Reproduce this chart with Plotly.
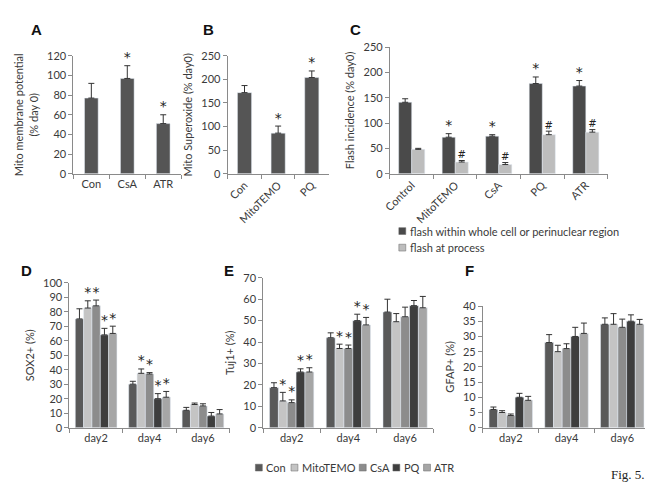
import plotly.graph_objects as go

# ---------------- data ----------------
a_cats = ["Con", "CsA", "ATR"]
a_vals = [77, 97, 51]
a_errs = [15, 13, 9]
a_stars = ["", "*", "*"]

b_cats = ["Con", "MitoTEMO", "PQ"]
b_vals = [172, 86, 204]
b_errs = [15, 15, 14]
b_stars = ["", "*", "*"]

c_cats = ["Control", "MitoTEMO", "CsA", "PQ", "ATR"]
c_whole = [141, 72, 74, 178, 173]
c_whole_err = [7, 7, 3, 13, 11]
c_whole_marks = ["", "*", "*", "*", "*"]
c_proc = [48, 23, 18, 77, 82]
c_proc_err = [2, 3, 4, 7, 5]
c_proc_marks = ["", "#", "#", "#", "#"]
c_series = ["flash within whole cell or perinuclear region", "flash at process"]

days = ["day2", "day4", "day6"]
treatments = ["Con", "MitoTEMO", "CsA", "PQ", "ATR"]

d_vals = {"Con": [75, 30, 12], "MitoTEMO": [82.5, 37.5, 16], "CsA": [84, 37, 15],
          "PQ": [64, 20, 8], "ATR": [65, 21, 9.5]}
d_errs = {"Con": [7, 2, 2], "MitoTEMO": [5, 3, 1], "CsA": [4, 1, 1.5],
          "PQ": [4.5, 3.5, 2.5], "ATR": [5, 4, 3]}
d_stars = {"Con": ["", "", ""], "MitoTEMO": ["*", "*", ""], "CsA": ["*", "*", ""],
           "PQ": ["*", "*", ""], "ATR": ["*", "*", ""]}

e_vals = {"Con": [18.7, 42, 54], "MitoTEMO": [12.5, 37, 49.5], "CsA": [11.7, 37, 51.8],
          "PQ": [26, 50, 57], "ATR": [26, 48, 56]}
e_errs = {"Con": [2.3, 2.3, 6], "MitoTEMO": [4, 2, 3.8], "CsA": [1.3, 1.6, 4.5],
          "PQ": [1.5, 3, 2.4], "ATR": [2, 3.5, 5.3]}
e_stars = {"Con": ["", "", ""], "MitoTEMO": ["*", "*", ""], "CsA": ["*", "*", ""],
           "PQ": ["*", "*", ""], "ATR": ["*", "*", ""]}

f_vals = {"Con": [6, 28, 34], "MitoTEMO": [5, 25, 34], "CsA": [4, 26, 33],
          "PQ": [10, 30, 35], "ATR": [9, 31, 34]}
f_errs = {"Con": [0.8, 2.6, 2.1], "MitoTEMO": [0.6, 2.1, 3.5], "CsA": [0.5, 1.6, 2.7],
          "PQ": [1.3, 3, 2.1], "ATR": [1.3, 3.4, 1.6]}

fig_label = "Fig. 5."

# ---------------- styling ----------------
W, H = 653, 488
FONT = "Lato, Open Sans, sans-serif"
STARF = "DejaVu Sans, sans-serif"
AX = "#8a8a8a"
TXT = "#3a3a3a"
colors = {"Con": "#595959", "MitoTEMO": "#c4c4c4", "CsA": "#8c8c8c",
          "PQ": "#3e3e3e", "ATR": "#a6a6a6"}
c_colors = ["#4a4a4a", "#bdbdbd"]


def px_x(a, b):
    return [a / W, b / W]


def px_y(top, bottom):
    return [1 - bottom / H, 1 - top / H]


def err(arr):
    return dict(type="data", array=arr, arrayminus=[0] * len(arr), symmetric=False,
                color="#333333", thickness=1, width=3)


def marks(xs, vals, errs, text, xa, ya, size=14):
    return go.Scatter(x=xs, y=[v + e for v, e in zip(vals, errs)], text=text,
                      mode="text", textposition="top center",
                      textfont=dict(size=size, color="#222222", family=STARF),
                      xaxis=xa, yaxis=ya, showlegend=False, cliponaxis=False,
                      hoverinfo="skip")


fig = go.Figure()

# ---- Panel A ----
fig.add_trace(go.Bar(x=a_cats, y=a_vals, error_y=err(a_errs), marker_color="#555555",
                     width=0.38, xaxis="x", yaxis="y", showlegend=False))
fig.add_trace(marks(a_cats, a_vals, a_errs, a_stars, "x", "y"))

# ---- Panel B ----
fig.add_trace(go.Bar(x=b_cats, y=b_vals, error_y=err(b_errs), marker_color="#555555",
                     width=0.42, xaxis="x2", yaxis="y2", showlegend=False))
fig.add_trace(marks(b_cats, b_vals, b_errs, b_stars, "x2", "y2"))

# ---- Panel C ----
cw = 0.30
for k, (vals, errs, mk, name) in enumerate([
        (c_whole, c_whole_err, c_whole_marks, c_series[0]),
        (c_proc, c_proc_err, c_proc_marks, c_series[1])]):
    xs = [i + (k - 0.5) * cw for i in range(len(c_cats))]
    fig.add_trace(go.Bar(x=xs, y=vals, error_y=err(errs), marker_color=c_colors[k],
                         width=cw, name=name, xaxis="x3", yaxis="y3", showlegend=False))
    fig.add_trace(marks(xs, vals, errs, mk, "x3", "y3", 14 if k == 0 else 10))

# ---- Panels D, E, F ----
bw = 0.156
panels = [(d_vals, d_errs, d_stars, "x4", "y4"),
          (e_vals, e_errs, e_stars, "x5", "y5"),
          (f_vals, f_errs, None, "x6", "y6")]
for p, (vals, errs, stars, xa, ya) in enumerate(panels):
    for j, t in enumerate(treatments):
        xs = [i + (j - 2) * bw for i in range(len(days))]
        fig.add_trace(go.Bar(x=xs, y=vals[t], error_y=err(errs[t]), marker_color=colors[t],
                             width=bw, name=t, xaxis=xa, yaxis=ya, showlegend=False))
        if stars is not None:
            fig.add_trace(marks(xs, vals[t], errs[t], stars[t], xa, ya))

# ---------------- axes ----------------
tickf = dict(size=11, color=TXT, family=FONT)
titlef = dict(size=11, color=TXT, family=FONT)


def yax(domain, rng, dtick, title, anchor, standoff=6):
    return dict(domain=domain, range=rng, dtick=dtick, anchor=anchor, showline=True,
                linecolor=AX, linewidth=1, ticks="outside", tickcolor=AX, ticklen=4,
                showgrid=False, zeroline=False, tickfont=tickf,
                title=dict(text=title, font=titlef, standoff=standoff))


def xcat(domain, anchor, angle=0):
    return dict(domain=domain, anchor=anchor, showline=True, linecolor=AX, linewidth=1,
                ticks="outside", tickcolor=AX, ticklen=4, tickson="boundaries",
                showgrid=False, tickfont=tickf, tickangle=angle)


def xnum(domain, anchor, labels, angle=0):
    n = len(labels)
    return dict(domain=domain, anchor=anchor, range=[-0.5, n - 0.5], showline=True,
                linecolor=AX, linewidth=1, tickmode="array", tickvals=list(range(n)),
                ticktext=labels, ticks="", showgrid=False, zeroline=False, tickfont=tickf,
                tickangle=angle,
                minor=dict(tickmode="array", tickvals=[i - 0.5 for i in range(n + 1)],
                           ticks="outside", ticklen=4, tickcolor=AX, showgrid=False))


fig.update_layout(
    width=W, height=H, margin=dict(l=0, r=0, t=0, b=0),
    paper_bgcolor="white", plot_bgcolor="white", barmode="overlay",
    font=dict(family=FONT, color=TXT), showlegend=False,
    xaxis=xcat(px_x(59, 168), "y"),
    yaxis=yax(px_y(42, 163), [0, 120], 20, "Mito membrane potential<br>(% day 0)", "x"),
    xaxis2=xcat(px_x(215, 317), "y2", -45),
    yaxis2=yax(px_y(42, 163), [0, 250], 50, "Mito Superoxide (% day0)", "x2"),
    xaxis3=xnum(px_x(379, 599), "y3", c_cats, -45),
    yaxis3=yax(px_y(33, 163), [0, 250], 50, "Flash incidence (% day0)", "x3"),
    xaxis4=xnum(px_x(55, 217), "y4", days),
    yaxis4=yax(px_y(275, 424), [0, 100], 10, "SOX2+ (%)", "x4"),
    xaxis5=xnum(px_x(251, 423), "y5", days),
    yaxis5=yax(px_y(270, 424), [0, 70], 10, "Tuj1+ (%)", "x5"),
    xaxis6=xnum(px_x(473, 642), "y6", days),
    yaxis6=yax(px_y(299, 424), [0, 40], 5, "GFAP+ (%)", "x6"),
)


# ---------------- compact legends (square swatch + real text) ----------------
def legend_item(x, y, color, label):
    s = 7
    fig.add_shape(type="rect", xref="paper", yref="paper",
                  x0=x / W, x1=(x + s) / W, y0=1 - (y + s / 2) / H, y1=1 - (y - s / 2) / H,
                  fillcolor=color, line=dict(color="#666666", width=0.5))
    fig.add_annotation(text=label, x=(x + s + 2) / W, y=1 - y / H, xref="paper",
                       yref="paper", showarrow=False, xanchor="left", yanchor="middle",
                       font=dict(size=11, color=TXT, family=FONT))


legend_c_pos = [(388, 222), (388, 239)]
for (x, y), col, lab in zip(legend_c_pos, c_colors, c_series):
    legend_item(x, y, col, lab)

legend_def_x = [243, 279, 348, 382, 413]
for x, t in zip(legend_def_x, treatments):
    legend_item(x, 465, colors[t], t)

letters = [("A", 22, 15), ("B", 196, 15), ("C", 344, 15),
           ("D", 12, 263), ("E", 216, 263), ("F", 459, 263)]
for t, x, y in letters:
    fig.add_annotation(text=f"<b>{t}</b>", x=x / W, y=1 - y / H, xref="paper", yref="paper",
                       showarrow=False, font=dict(size=15, color="#111111",
                                                  family="Liberation Sans, Arial"),
                       xanchor="center", yanchor="middle")
fig.add_annotation(text=fig_label, x=600 / W, y=1 - 472 / H, xref="paper", yref="paper",
                   showarrow=False, font=dict(size=13, color="#222222",
                                              family="Liberation Serif, DejaVu Serif, serif"),
                   xanchor="left", yanchor="middle")

fig.write_html("out.html")
